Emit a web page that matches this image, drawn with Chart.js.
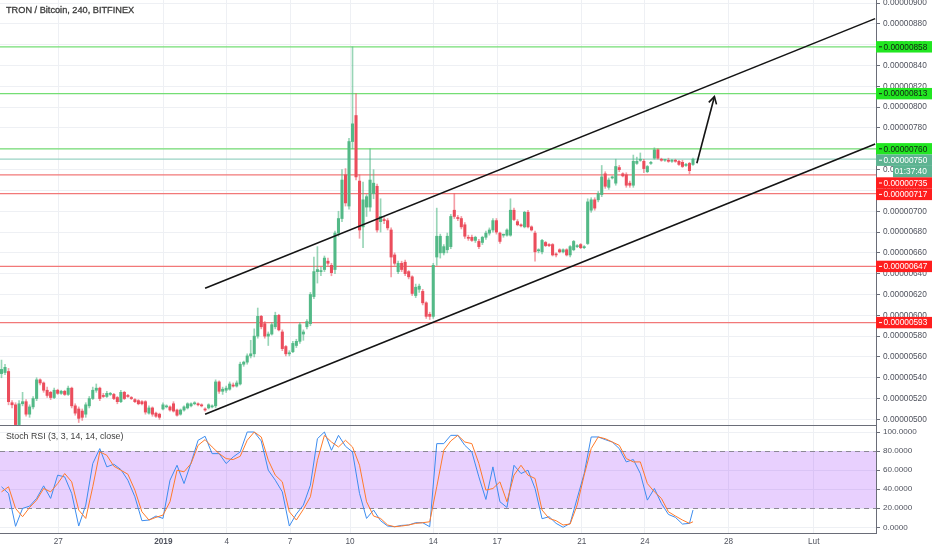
<!DOCTYPE html>
<html>
<head>
<meta charset="utf-8">
<title>TRON / Bitcoin, 240, BITFINEX</title>
<script src="https://cdn.jsdelivr.net/npm/chart.js@4.4.1/dist/chart.umd.min.js"></script>
<style>
    body { margin: 0; background: #fff; }
    #wrap { position: relative; width: 932px; height: 550px; overflow: hidden; }
    #priceChart { position: absolute; left: 0; top: 0; }
    #stochChart { position: absolute; left: 0; top: 420px; }
    .label { position: absolute; left: 6px; font-family: "Liberation Sans", Arial, sans-serif; color: #3b3b3b; white-space: nowrap; }
    #mainTitle { top: 5px; font-size: 9.2px; -webkit-text-stroke: 0.3px #3b3b3b; }
    #stochTitle { top: 431px; font-size: 8.8px; }
</style>
</head>
<body>
<div id="wrap">
    <canvas id="priceChart" width="932" height="426"></canvas>
    <canvas id="stochChart" width="932" height="130"></canvas>
    <div class="label" id="mainTitle">TRON / Bitcoin, 240, BITFINEX</div>
    <div class="label" id="stochTitle">Stoch RSI (3, 3, 14, 14, close)</div>
</div>
<script>
"use strict";

// prices in satoshi (1e-8 BTC), one 4h candle per entry
const opens = [
    544, 545, 546, 516, 514, 495, 515, 517, 505, 512,
    520, 538, 535, 528, 526, 521, 528, 525, 527, 524,
    530, 513, 510, 508, 505, 513, 520, 528, 530, 523,
    522, 524, 524, 521, 517, 526, 523, 521, 519, 518,
    517, 517, 506, 511, 506, 505, 510, 512, 512, 515,
    509, 505, 509, 511, 513, 515, 515, 514, 510, 511,
    512, 513, 536, 527, 528, 529, 533, 532, 534, 553,
    555, 561, 563, 580, 599, 592, 580, 582, 589, 600,
    584, 570, 563, 565, 571, 575, 582, 589, 592, 618,
    642, 642, 644, 652, 648, 644, 679, 693, 735, 705,
    767, 792, 729, 685, 704, 704, 717, 724, 690, 692,
    691, 682, 658, 642, 650, 651, 642, 637, 619, 625,
    623, 612, 601, 599, 656, 660, 660, 663, 666, 701,
    694, 693, 687, 675, 675, 672, 671, 670, 675, 679,
    682, 691, 679, 677, 677, 677, 701, 690, 687, 685,
    699, 685, 679, 662, 661, 670, 668, 668, 659, 663,
    661, 663, 658, 663, 666, 668, 665, 669, 701, 711,
    711, 716, 736, 723, 732, 727, 742, 736, 735, 727,
    725, 746, 749, 748, 738, 746, 751, 759, 750, 749,
    749, 748, 749, 748, 747, 744, 746, 745
];
const highs = [
    557, 553, 549, 518, 516, 518, 526, 519, 514, 522,
    540, 539, 536, 531, 527, 530, 529, 528, 528, 532,
    531, 515, 512, 510, 516, 522, 531, 534, 531, 525,
    527, 526, 525, 522, 528, 527, 524, 522, 520, 519,
    518, 518, 513, 512, 507, 506, 516, 514, 513, 517,
    510, 510, 513, 516, 516, 517, 516, 515, 511, 515,
    514, 538, 537, 531, 532, 536, 535, 537, 555, 556,
    563, 576, 587, 607, 600, 594, 584, 593, 603, 601,
    586, 571, 566, 575, 577, 593, 586, 596, 622, 656,
    666, 646, 657, 655, 650, 681, 700, 740, 741, 770,
    858, 813, 735, 728, 716, 760, 740, 726, 712, 694,
    693, 684, 660, 652, 652, 653, 643, 638, 630, 630,
    625, 613, 603, 650, 703, 678, 668, 679, 697, 717,
    696, 695, 689, 677, 677, 676, 673, 676, 681, 684,
    693, 693, 680, 678, 683, 712, 703, 692, 688, 700,
    701, 686, 681, 664, 673, 671, 669, 669, 660, 664,
    664, 664, 667, 672, 668, 669, 667, 712, 713, 713,
    719, 744, 738, 732, 734, 750, 744, 737, 737, 729,
    754, 752, 756, 750, 744, 748, 761, 760, 751, 750,
    751, 750, 750, 749, 749, 746, 747, 751
];
const lows = [
    540, 543, 514, 511, 490, 492, 513, 503, 502, 510,
    518, 533, 526, 521, 519, 520, 524, 524, 523, 523,
    511, 504, 497, 499, 502, 511, 519, 526, 518, 521,
    521, 523, 519, 515, 516, 519, 521, 519, 516, 514,
    514, 505, 505, 503, 502, 500, 509, 511, 508, 507,
    503, 504, 508, 510, 512, 514, 513, 512, 508, 510,
    511, 511, 525, 524, 526, 528, 531, 531, 533, 551,
    553, 559, 560, 578, 587, 578, 571, 581, 587, 585,
    566, 561, 561, 564, 569, 573, 576, 587, 590, 616,
    631, 638, 642, 648, 638, 640, 676, 690, 705, 702,
    760, 730, 674, 665, 695, 700, 712, 680, 680, 688,
    682, 637, 648, 640, 642, 638, 635, 619, 617, 622,
    610, 597, 596, 597, 648, 655, 658, 660, 664, 693,
    691, 683, 674, 672, 671, 670, 664, 668, 673, 677,
    680, 678, 669, 675, 676, 676, 691, 686, 685, 684,
    684, 681, 652, 660, 659, 666, 666, 657, 656, 660,
    660, 657, 656, 662, 665, 664, 664, 668, 699, 701,
    709, 714, 722, 721, 731, 725, 738, 733, 723, 723,
    723, 745, 748, 737, 737, 745, 750, 750, 748, 748,
    747, 747, 747, 744, 742, 743, 736, 744
];
const closes = [
    548, 550, 517, 514, 495, 515, 517, 505, 512, 520,
    538, 535, 528, 523, 521, 528, 525, 527, 524, 530,
    513, 506, 501, 502, 514, 520, 528, 530, 520, 522,
    525, 525, 520, 517, 526, 520, 522, 520, 517, 515,
    515, 507, 511, 505, 503, 502, 514, 512, 509, 508,
    504, 509, 512, 515, 515, 515, 514, 513, 509, 514,
    513, 536, 527, 529, 530, 534, 532, 535, 553, 555,
    561, 563, 580, 599, 589, 580, 582, 591, 600, 586,
    568, 563, 564, 573, 575, 591, 584, 594, 620, 642,
    644, 643, 655, 650, 641, 679, 693, 730, 708, 767,
    784, 733, 682, 711, 714, 730, 727, 682, 695, 691,
    684, 656, 650, 650, 644, 640, 637, 621, 627, 628,
    612, 599, 599, 648, 676, 676, 666, 676, 695, 695,
    693, 685, 676, 674, 672, 675, 666, 675, 679, 682,
    691, 680, 671, 677, 682, 701, 692, 687, 686, 699,
    685, 682, 661, 663, 672, 667, 667, 658, 658, 661,
    663, 658, 666, 671, 666, 665, 666, 709, 711, 703,
    717, 733, 724, 730, 733, 743, 740, 734, 725, 725,
    748, 748, 750, 741, 743, 746, 759, 751, 749, 749,
    748, 749, 748, 745, 743, 745, 739, 750
];

// Stoch RSI, sampled at these candle positions
const stochIdx = [
    0, 2, 4, 6, 8, 10, 12, 14, 16, 18,
    20, 22, 24, 26, 28, 30, 32, 34, 36, 38,
    40, 42, 44, 46, 48, 50, 52, 54, 56, 58,
    60, 62, 64, 66, 68, 70, 72, 74, 76, 78,
    80, 82, 84, 86, 88, 90, 92, 94, 96, 98,
    100, 102, 104, 106, 108, 110, 112, 114, 116, 118,
    120, 122, 124, 126, 128, 130, 132, 134, 136, 138,
    140, 142, 144, 146, 148, 150, 152, 154, 156, 158,
    160, 162, 164, 166, 168, 170, 172, 174, 176, 178,
    180, 182, 184, 186, 188, 190, 192, 194, 196, 197
];
const stochK = [
    42.5, 35.5, 1.0, 19.8, 22.2, 30.3, 43.5, 30.3, 54.7, 52.9,
    35.5, 1.3, 23.3, 66.9, 82.6, 63.4, 66.2, 60.6, 49.4, 32.0,
    6.9, 7.6, 11.8, 9.3, 49.4, 65.1, 45.9, 67.6, 91.3, 95.5,
    77.3, 77.3, 66.9, 73.8, 79.1, 100, 100, 90.6, 59.9, 49.4,
    37.2, 1.3, 13.9, 23.3, 44.2, 93.0, 100, 80.8, 96.5, 85.0,
    79.1, 35.5, 9.3, 18.1, 6.9, 1.3, 0.6, 2.0, 2.4, 4.8,
    4.8, 0.6, 87.8, 87.8, 96.5, 96.5, 86.0, 79.1, 52.9, 29.2,
    63.4, 26.8, 20.8, 65.1, 56.4, 59.9, 40.7, 9.0, 11.1, 4.1,
    0, 4.1, 30.3, 56.4, 94.8, 94.8, 92.0, 89.5, 82.6, 68.6,
    71.1, 56.4, 28.5, 40.7, 25.0, 13.5, 10.4, 3.4, 4.1, 18.1
];
const stochD = [
    37.2, 42.5, 19.8, 11.1, 20.8, 28.5, 40.7, 37.2, 45.9, 56.4,
    47.7, 18.1, 9.3, 42.5, 79.1, 75.6, 64.1, 59.9, 55.7, 39.0,
    16.3, 7.6, 10.4, 12.8, 26.8, 59.9, 58.2, 66.9, 86.0, 92.0,
    84.3, 77.3, 72.1, 71.1, 74.5, 91.3, 100, 94.8, 70.4, 54.7,
    47.7, 16.3, 7.6, 18.8, 32.0, 70.4, 96.5, 89.5, 84.3, 91.3,
    84.3, 65.1, 26.8, 11.8, 9.3, 2.4, 0.6, 1.3, 2.4, 4.1,
    4.8, 5.8, 42.5, 80.8, 90.6, 96.5, 89.5, 87.8, 66.9, 39.0,
    40.7, 47.7, 26.8, 54.7, 65.1, 54.7, 51.2, 18.1, 9.3, 6.9,
    2.4, 3.4, 23.3, 54.7, 82.6, 94.8, 93.0, 89.5, 86.0, 72.1,
    68.6, 68.6, 45.9, 37.2, 30.3, 16.3, 11.8, 7.6, 4.1, 5.8
];

// date ticks (candle positions) and their labels
const tickPos = [16.2, 46.1, 64.2, 82.2, 99.3, 123.0, 141.2, 165.3, 183.3, 207.1, 231.4];
const tickLabels = ['27', '2019', '4', '7', '10', '14', '17', '21', '24', '28', 'Lut'];

// drawn levels
const greenLevels = [858, 813, 760];
const redLevels = [735, 717, 647, 593];
const lastPrice = 750;
const countdown = '01:37:40';
const bandLow = 20;
const bandHigh = 80;

// channel and arrow (candle position, satoshi)
const channelX = [58.0, 248.9];
const upperY = [626.0, 885.1];
const lowerY = [504.9, 764.7];
const arrowX = [198.1, 203.1];
const arrowY = [746.1, 810.1];
const headX = [201.5, 203.1, 203.7];
const headY = [804.6, 810.1, 802.7];

const FONT = '"Liberation Sans", Arial, sans-serif';
const AXIS_TEXT = '#50535e';
const GRID = '#eef0f4';
const UP = '#53b987';
const DOWN = '#eb4d5c';

function fmtPrice(v) {
    return (v / 1e8).toFixed(8);
}

function dateTicks(scale) {
    scale.ticks = tickPos.map(function(v) { return { value: v }; });
}

function toPoints(xs, ys) {
    return xs.map(function(x, i) { return { x: x, y: ys[i] }; });
}

var isUp = opens.map(function(o, i) { return closes[i] >= o; });

var levelPlugin = {
    id: 'levels',
    beforeDatasetsDraw: function(chart) {
        var ctx = chart.ctx, a = chart.chartArea, y = chart.scales.y;
        function hline(v, color) {
            var py = y.getPixelForValue(v);
            ctx.strokeStyle = color;
            ctx.beginPath();
            ctx.moveTo(a.left, py);
            ctx.lineTo(a.right, py);
            ctx.stroke();
        }
        ctx.save();
        ctx.lineWidth = 1.3;
        greenLevels.forEach(function(v) { hline(v, '#74de74'); });
        hline(lastPrice, '#9ad3c4');
        redLevels.forEach(function(v) { hline(v, '#f27878'); });
        ctx.restore();
    },
    afterDraw: function(chart) {
        var ctx = chart.ctx, a = chart.chartArea, y = chart.scales.y;
        ctx.save();
        // panel bottom border
        ctx.strokeStyle = '#6a6d78';
        ctx.lineWidth = 1;
        ctx.beginPath();
        ctx.moveTo(0, a.bottom + 0.5);
        ctx.lineTo(a.right, a.bottom + 0.5);
        ctx.stroke();

        // price tags on the axis, pushed down when they overlap
        var tags = [];
        greenLevels.forEach(function(v) { tags.push({ v: v, bg: '#21e621', fg: '#122012' }); });
        tags.push({ v: lastPrice, bg: '#5db391', fg: '#ffffff', timer: true });
        redLevels.forEach(function(v) { tags.push({ v: v, bg: '#ff1e1e', fg: '#ffffff' }); });
        tags.sort(function(p, q) { return q.v - p.v; });

        var h = 11.4, x0 = a.right, w = chart.width - a.right, prev = -1e9;
        ctx.font = '8.3px ' + FONT;
        ctx.textBaseline = 'middle';
        tags.forEach(function(t) {
            var top = Math.max(y.getPixelForValue(t.v) - h / 2, prev);
            ctx.fillStyle = t.bg;
            ctx.fillRect(x0, top, w, h);
            ctx.strokeStyle = t.fg;
            ctx.beginPath();
            ctx.moveTo(x0 + 3, top + h / 2);
            ctx.lineTo(x0 + 6, top + h / 2);
            ctx.stroke();
            ctx.fillStyle = t.fg;
            ctx.fillText(fmtPrice(t.v), x0 + 7.5, top + h / 2 + 0.5);
            prev = top + h;
            if (t.timer) {
                ctx.fillStyle = t.bg;
                ctx.fillRect(x0 + 17, prev, w - 17, h);
                ctx.fillStyle = '#ffffff';
                ctx.fillText(countdown, x0 + 18.5, prev + h / 2 + 0.5);
                prev += h;
            }
        });
        ctx.restore();
    }
};

var bandPlugin = {
    id: 'band',
    beforeDatasetsDraw: function(chart) {
        var ctx = chart.ctx, a = chart.chartArea, y = chart.scales.y;
        var top = y.getPixelForValue(bandHigh), bottom = y.getPixelForValue(bandLow);
        ctx.save();
        ctx.fillStyle = 'rgba(150, 40, 250, 0.22)';
        ctx.fillRect(a.left, top, a.right - a.left, bottom - top);
        ctx.strokeStyle = '#8b8894';
        ctx.lineWidth = 1;
        ctx.setLineDash([5, 4]);
        [top, bottom].forEach(function(py) {
            ctx.beginPath();
            ctx.moveTo(a.left, Math.round(py) + 0.5);
            ctx.lineTo(a.right, Math.round(py) + 0.5);
            ctx.stroke();
        });
        ctx.restore();
    }
};

var xRange = { min: -0.43, max: 249.14 };

new Chart(document.getElementById('priceChart'), {
    type: 'bar',
    data: {
        datasets: [
            {
                label: 'wicks',
                order: 4,
                grouped: false,
                barThickness: 1,
                data: opens.map(function(o, i) { return { x: i, y: [lows[i], highs[i]] }; }),
                backgroundColor: isUp.map(function(u) { return u ? 'rgba(83, 185, 135, 0.6)' : 'rgba(235, 77, 92, 0.55)'; })
            },
            {
                label: 'bodies',
                order: 3,
                grouped: false,
                barThickness: 2.4,
                minBarLength: 1,
                data: opens.map(function(o, i) { return { x: i, y: [o, closes[i]] }; }),
                backgroundColor: isUp.map(function(u) { return u ? UP : DOWN; })
            },
            {
                type: 'line', order: 1,
                data: toPoints(channelX, upperY),
                borderColor: '#141414', borderWidth: 1.6, pointRadius: 0
            },
            {
                type: 'line', order: 1,
                data: toPoints(channelX, lowerY),
                borderColor: '#141414', borderWidth: 1.6, pointRadius: 0
            },
            {
                type: 'line', order: 1,
                data: toPoints(arrowX, arrowY),
                borderColor: '#141414', borderWidth: 1.6, pointRadius: 0
            },
            {
                type: 'line', order: 1,
                data: toPoints(headX, headY),
                borderColor: '#141414', borderWidth: 1.6, pointRadius: 0
            }
        ]
    },
    options: {
        responsive: false,
        animation: false,
        events: [],
        layout: { padding: { left: 0, right: 0, top: 0, bottom: 1 } },
        plugins: { legend: { display: false }, tooltip: { enabled: false } },
        scales: {
            x: {
                type: 'linear',
                min: xRange.min,
                max: xRange.max,
                offset: false,
                afterBuildTicks: dateTicks,
                afterFit: function(s) { s.height = 0; s.paddingLeft = 0; s.paddingRight = 0; },
                ticks: { display: false },
                grid: { color: GRID, drawTicks: false, offset: false },
                border: { display: false }
            },
            y: {
                position: 'right',
                min: 494.6,
                max: 903.0,
                afterFit: function(s) { s.width = 56; s.paddingTop = 0; s.paddingBottom = 0; },
                ticks: {
                    stepSize: 20,
                    includeBounds: false,
                    padding: 3,
                    color: AXIS_TEXT,
                    font: { family: FONT, size: 8.3 },
                    callback: function(v) { return fmtPrice(v); }
                },
                grid: { color: GRID, tickLength: 4, tickColor: '#6a6d78' },
                border: { color: '#6a6d78' }
            }
        }
    },
    plugins: [levelPlugin]
});

new Chart(document.getElementById('stochChart'), {
    type: 'line',
    data: {
        datasets: [
            {
                label: 'D',
                data: toPoints(stochIdx, stochD),
                borderColor: '#ff7a2a', borderWidth: 1, pointRadius: 0, tension: 0
            },
            {
                label: 'K',
                data: toPoints(stochIdx, stochK),
                borderColor: '#3c8cef', borderWidth: 1, pointRadius: 0, tension: 0
            }
        ]
    },
    options: {
        responsive: false,
        animation: false,
        events: [],
        layout: { padding: { left: 0, right: 0, top: 6, bottom: 0 } },
        plugins: { legend: { display: false }, tooltip: { enabled: false } },
        scales: {
            x: {
                type: 'linear',
                min: xRange.min,
                max: xRange.max,
                afterBuildTicks: dateTicks,
                afterFit: function(s) { s.height = 17; s.paddingLeft = 0; s.paddingRight = 0; },
                ticks: {
                    autoSkip: false,
                    maxRotation: 0,
                    padding: 4,
                    color: AXIS_TEXT,
                    font: function(c) {
                        return { family: FONT, size: 8.2, weight: tickLabels[c.index] === '2019' ? 'bold' : 'normal' };
                    },
                    callback: function(v, i) { return tickLabels[i]; }
                },
                grid: { color: GRID, drawTicks: false },
                border: { color: '#6a6d78' }
            },
            y: {
                position: 'right',
                min: -6,
                max: 106.3,
                afterFit: function(s) { s.width = 56; s.paddingTop = 0; s.paddingBottom = 0; },
                ticks: {
                    stepSize: 20,
                    includeBounds: false,
                    padding: 3,
                    color: AXIS_TEXT,
                    font: { family: FONT, size: 8.1 },
                    callback: function(v) { return v.toFixed(4); }
                },
                grid: { color: GRID, tickLength: 4, tickColor: '#6a6d78' },
                border: { color: '#6a6d78' }
            }
        }
    },
    plugins: [bandPlugin]
});
</script>
</body>
</html>
